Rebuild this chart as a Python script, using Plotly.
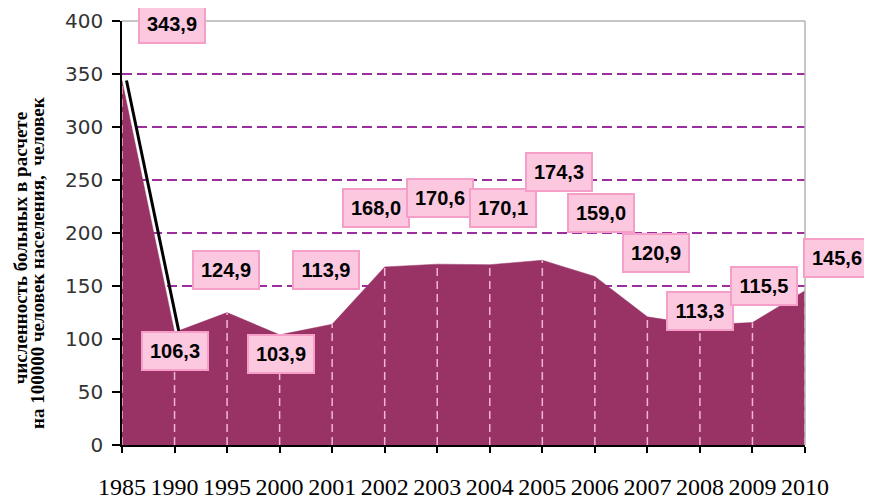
import plotly.graph_objects as go

years = ["1985", "1990", "1995", "2000", "2001", "2002", "2003", "2004",
         "2005", "2006", "2007", "2008", "2009", "2010"]
values = [343.9, 106.3, 124.9, 103.9, 113.9, 168.0, 170.6, 170.1,
          174.3, 159.0, 120.9, 113.3, 115.5, 145.6]
y_ticks = [0, 50, 100, 150, 200, 250, 300, 350, 400]
y_title_lines = ["численность больных в расчете",
                 "на 100000 человек населения,  человек"]

# label placement offsets (pixels) – style only
label_dx = [50, 0, -1, 1, -6, -9, 3, 13, 17, 6, 9, 0, 12, 32]
label_dy = [56, -19, 43, -19, 54, 59, 66, 57, 88, 63, 64, 14, 37, 33]

idx = list(range(len(years)))

fig = go.Figure()

# area
fig.add_trace(go.Scatter(
    x=idx, y=values, mode="lines", fill="tozeroy",
    fillcolor="#993366", line=dict(color="#993366", width=0.5),
    hoverinfo="skip", showlegend=False))

# drop lines
dx, dy = [], []
for i, v in zip(idx, values):
    dx += [i, i, None]
    dy += [0, v, None]
fig.add_trace(go.Scatter(
    x=dx, y=dy, mode="lines",
    line=dict(color="#f6b4d4", width=1.5, dash="8px,5px"),
    hoverinfo="skip", showlegend=False))

# black edge line on first segment (slightly offset axis)
fig.add_trace(go.Scatter(
    x=idx[:2], y=values[:2], mode="lines", xaxis="x2",
    line=dict(color="#000000", width=3),
    hoverinfo="skip", showlegend=False))

n = len(years) - 1
shift = 4.5 / 683 * n

fig.update_layout(
    width=872, height=501,
    margin=dict(l=114, r=75, t=13, b=64),
    paper_bgcolor="white", plot_bgcolor="white",
    xaxis=dict(
        range=[0, n], tickmode="array", tickvals=idx, ticktext=years,
        showgrid=False, zeroline=False, automargin=False,
        showline=True, linecolor="black", linewidth=1.5,
        ticks="outside", ticklen=6, tickcolor="black", tickwidth=1.5,
        tickfont=dict(family="Liberation Serif", size=24, color="black"),
        ticklabelstandoff=13,
    ),
    xaxis2=dict(
        range=[-shift, n - shift], overlaying="x", visible=False,
    ),
    yaxis=dict(
        range=[0, 400], tickmode="array", tickvals=y_ticks,
        showgrid=True, gridcolor="#9c2fa0", gridwidth=1.6, griddash="10px,5px",
        zeroline=False, automargin=False,
        showline=True, linecolor="black", linewidth=1.5,
        ticks="outside", ticklen=8, tickcolor="black", tickwidth=1.5,
        tickfont=dict(family="DejaVu Sans", size=20, color="#333333"),
        ticklabelstandoff=5,
    ),
    shapes=[
        dict(type="line", xref="paper", yref="paper", x0=0, x1=1, y0=1, y1=1,
             line=dict(color="#b3b3b3", width=1.5)),
        dict(type="line", xref="paper", yref="paper", x0=1, x1=1, y0=0, y1=1,
             line=dict(color="#b3b3b3", width=1.5)),
    ],
)

for i, v, ox, oy in zip(idx, values, label_dx, label_dy):
    fig.add_annotation(
        x=i, y=v, xref="x", yref="y",
        text="<b>" + f"{v:.1f}".replace(".", ",") + "</b>",
        showarrow=False, xshift=ox, yshift=oy,
        font=dict(family="Liberation Sans", size=20, color="black"),
        bgcolor="#fbc8e0", bordercolor="#f59fc8", borderwidth=2,
        borderpad=1, width=62, height=34,
        xanchor="center", yanchor="middle",
    )

title_x = [-0.1493, -0.1245]
title_y = [0.464, 0.429]
for line, tx, ty in zip(y_title_lines, title_x, title_y):
    fig.add_annotation(
        xref="paper", yref="paper", x=tx, y=ty,
        text="<b>" + line + "</b>",
        textangle=-90, showarrow=False,
        font=dict(family="Liberation Serif", size=19, color="black"),
        xanchor="center", yanchor="middle",
    )

fig.write_html("out.html")
